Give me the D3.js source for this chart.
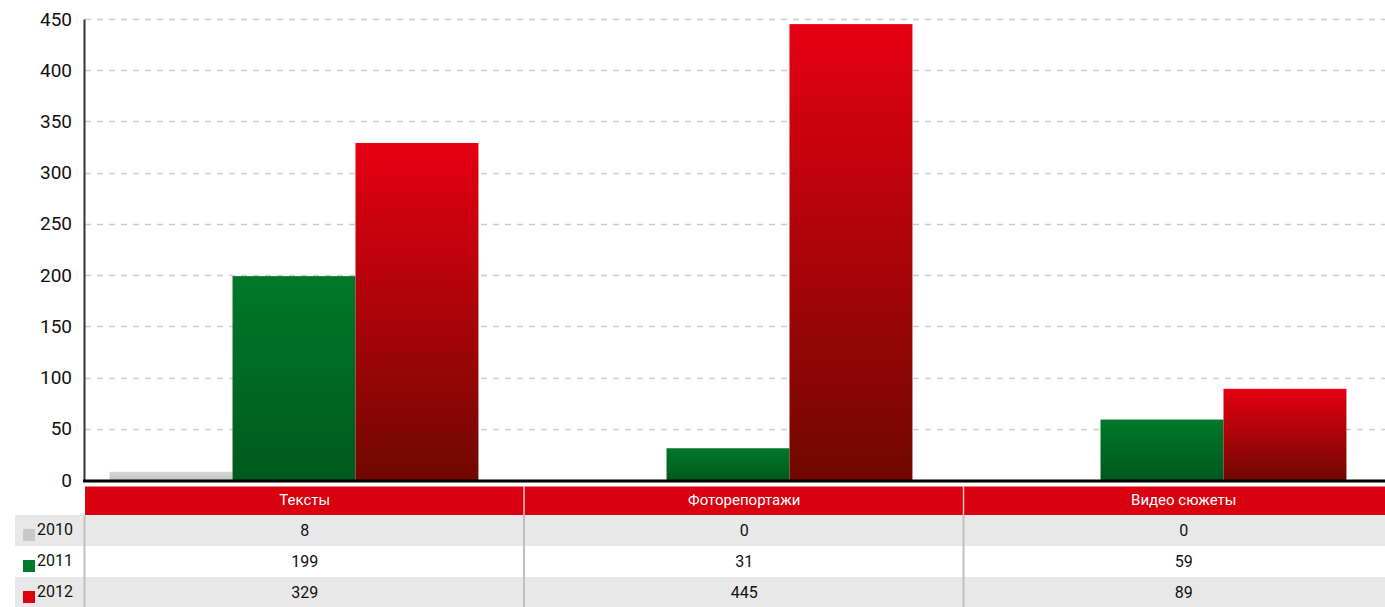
<!DOCTYPE html>
<html>
<head>
<meta charset="utf-8">
<script src="https://cdn.jsdelivr.net/npm/d3@7"></script>
<style>
	body { margin: 0; background: #fff; }
	svg { display: block; font-family: Roboto, "DejaVu Sans", sans-serif; }
</style>
</head>
<body>
<div id="chart"></div>
<script>
var
	categories = ["Тексты", "Фоторепортажи", "Видео сюжеты"],
	years = ["2010", "2011", "2012"],
	values2010 = [8, 0, 0],
	values2011 = [199, 31, 59],
	values2012 = [329, 445, 89],
	yTicks = [0, 50, 100, 150, 200, 250, 300, 350, 400, 450],
	series = [values2010, values2011, values2012],

	width = 1385,
	height = 607,

	svg = d3.select("#chart")
		.append("svg")
		.attr("width", width)
		.attr("height", height),

	defs = svg.append("defs"),

	// bars area
	x0 = d3.scaleBand()
		.domain(categories)
		.range([77, 1379])
		.paddingInner(0.15)
		.paddingOuter(0.075),
	x1 = d3.scaleBand()
		.domain(years)
		.range([0, x0.bandwidth()]),
	y = d3.scaleLinear()
		.domain([0, 450])
		.range([480, 19]),

	// table columns run past the right edge
	col = d3.scaleBand()
		.domain(categories)
		.range([85, 85 + 3 * 439.5]),

	gradients = {
		"2010": ["#d6d6d6", "#c4c4c4"],
		"2011": ["#00782a", "#005a1e"],
		"2012": ["#e60012", "#700800"]
	},
	swatch = {"2010": "#c8c8c8", "2011": "#00782a", "2012": "#e0000f"}

years.forEach(function(yr){
	var g = defs.append("linearGradient")
		.attr("id", "grad" + yr)
		.attr("x1", 0).attr("y1", 0)
		.attr("x2", 0).attr("y2", 1)
	g.append("stop").attr("offset", "0%").attr("stop-color", gradients[yr][0])
	g.append("stop").attr("offset", "100%").attr("stop-color", gradients[yr][1])
})

// grid
svg.append("g")
	.selectAll("line")
	.data(yTicks.filter(d => d > 0))
	.join("line")
	.attr("x1", 85)
	.attr("x2", width)
	.attr("y1", d => Math.round(y(d)) + 0.5)
	.attr("y2", d => Math.round(y(d)) + 0.5)
	.attr("stroke", "#cccccc")
	.attr("stroke-width", 1.5)
	.attr("stroke-dasharray", "6,6")

// y axis
var yAxis = svg.append("g")
	.attr("transform", "translate(84,0)")
	.call(d3.axisLeft(y).tickValues(yTicks).tickSize(0).tickPadding(12))
yAxis.select(".domain").attr("stroke", "#333").attr("stroke-width", 2)
yAxis.selectAll("text")
	.attr("font-size", 19)
	.attr("fill", "#111")
	.attr("font-family", "Roboto, sans-serif")

// bars
svg.append("g")
	.selectAll("g")
	.data(categories)
	.join("g")
	.attr("transform", d => "translate(" + x0(d) + ",0)")
	.selectAll("rect")
	.data((d, i) => years.map((yr, j) => ({year: yr, value: series[j][i]})))
	.join("rect")
	.attr("x", d => x1(d.year))
	.attr("width", x1.bandwidth())
	.attr("y", d => y(d.value))
	.attr("height", d => y(0) - y(d.value))
	.attr("fill", d => "url(#grad" + d.year + ")")

// baseline
svg.append("line")
	.attr("x1", 83).attr("x2", width)
	.attr("y1", 481).attr("y2", 481)
	.attr("stroke", "#000")
	.attr("stroke-width", 3)

// table header
var headerTop = 486, headerH = 29, rowH = 31

svg.append("g")
	.selectAll("rect")
	.data(categories)
	.join("rect")
	.attr("x", d => col(d))
	.attr("y", headerTop)
	.attr("width", col.bandwidth())
	.attr("height", headerH)
	.attr("fill", "#d9000f")

svg.append("line")
	.attr("x1", 85).attr("x2", width)
	.attr("y1", headerTop + 0.5).attr("y2", headerTop + 0.5)
	.attr("stroke", "#f08080")
	.attr("stroke-width", 1)

svg.append("g")
	.selectAll("text")
	.data(categories)
	.join("text")
	.attr("x", d => col(d) + col.bandwidth() / 2)
	.attr("y", headerTop + headerH / 2 + 1)
	.attr("text-anchor", "middle")
	.attr("dominant-baseline", "middle")
	.attr("font-size", 15)
	.attr("fill", "#fff")
	.text(d => d)

// table rows
var rows = svg.append("g")
	.selectAll("g")
	.data(years)
	.join("g")
	.attr("transform", (d, i) => "translate(0," + (headerTop + headerH + i * rowH) + ")")

rows.append("rect")
	.attr("x", 15)
	.attr("width", width - 15)
	.attr("height", rowH)
	.attr("fill", (d, i) => i % 2 === 0 ? "#e8e8e8" : "#ffffff")

rows.append("rect")
	.attr("x", 23)
	.attr("y", 14)
	.attr("width", 12)
	.attr("height", 12)
	.attr("fill", d => swatch[d])

rows.append("text")
	.attr("x", 37)
	.attr("y", rowH / 2)
	.attr("dominant-baseline", "middle")
	.attr("font-size", 16)
	.attr("fill", "#111")
	.text(d => d)

rows.selectAll(".cell")
	.data((d, i) => categories.map((c, k) => ({cat: c, value: series[i][k]})))
	.join("text")
	.attr("class", "cell")
	.attr("x", d => col(d.cat) + col.bandwidth() / 2)
	.attr("y", rowH / 2 + 1)
	.attr("text-anchor", "middle")
	.attr("dominant-baseline", "middle")
	.attr("font-size", 16)
	.attr("fill", "#111")
	.text(d => d.value)

// column dividers
svg.append("g")
	.selectAll("line")
	.data(categories)
	.join("line")
	.attr("x1", d => col(d) - 0.5)
	.attr("x2", d => col(d) - 0.5)
	.attr("y1", headerTop + headerH)
	.attr("y2", height)
	.attr("stroke", "#c0c0c0")
	.attr("stroke-width", 2)

svg.append("g")
	.selectAll("line")
	.data(categories.slice(1))
	.join("line")
	.attr("x1", d => col(d) - 0.5)
	.attr("x2", d => col(d) - 0.5)
	.attr("y1", headerTop)
	.attr("y2", headerTop + headerH)
	.attr("stroke", "#f4c0c0")
	.attr("stroke-width", 1.5)
</script>
</body>
</html>
